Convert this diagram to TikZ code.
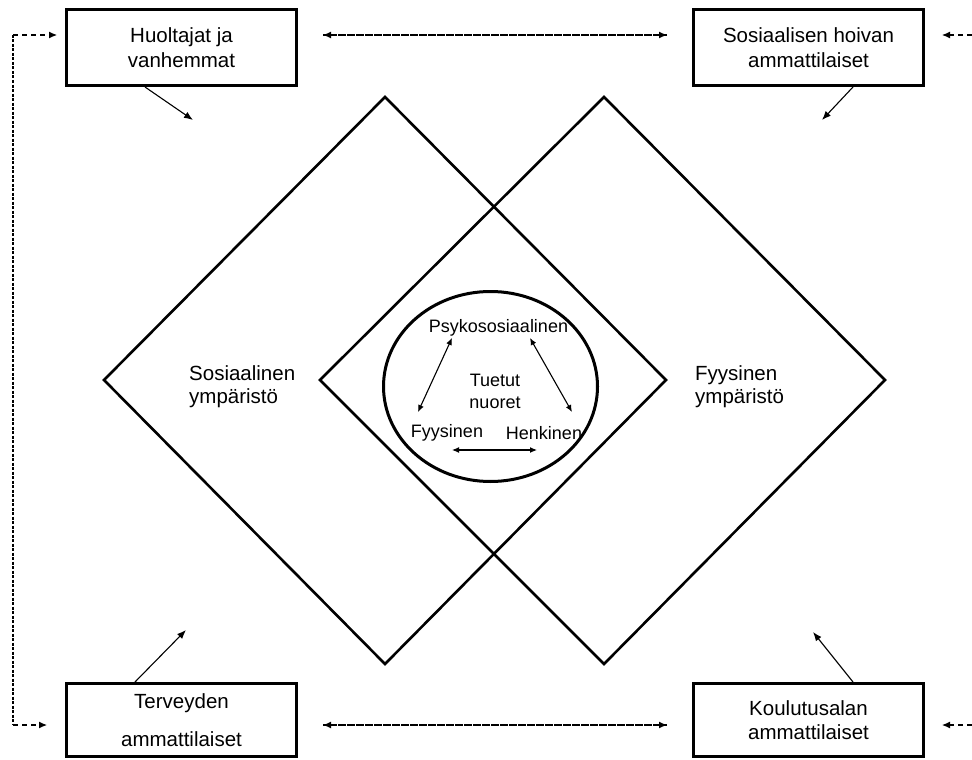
\documentclass[tikz,border=0pt]{standalone}
\usepackage{fontspec}
\setmainfont{Liberation Sans}
\usetikzlibrary{shapes.geometric,arrows.meta}
\begin{document}
\begin{tikzpicture}[x=1pt,y=-1pt,
  box/.style={draw,line width=3pt,minimum width=230pt,minimum height=76pt,inner sep=0pt,align=center,font=\fontsize{20.5}{24.5}\selectfont},
  lowbox/.style={box,minimum height=73pt},
  dia/.style={line width=2.6pt,line join=miter},
  lab/.style={align=left,anchor=west,inner sep=0pt,font=\fontsize{20.5}{23.5}\selectfont},
  inlab/.style={align=center,inner sep=0pt,font=\fontsize{18}{22}\selectfont},
  arr/.style={line width=1.1pt,-{Latex[length=9pt,width=7pt]}},
  darr/.style={line width=1.1pt,{Latex[length=7pt,width=6pt]}-{Latex[length=7pt,width=6pt]}},
  dsh/.style={line width=1.1pt,dash pattern=on 5pt off 4pt},
  dtt/.style={line width=1.1pt,dash pattern=on 3pt off 1.5pt},
  tip/.style={-{Latex[length=8pt,width=7pt]}}
]
\useasboundingbox (0,0) rectangle (972,760);

% diamonds
\coordinate (L1) at (104,380); \coordinate (L2) at (385,97); \coordinate (L3) at (666,380); \coordinate (L4) at (385,664);
\coordinate (R1) at (320,380); \coordinate (R2) at (604,97); \coordinate (R3) at (885,380); \coordinate (R4) at (604,664);
\draw[dia] (L1) -- (L2) -- (L3) -- (L4) -- cycle;
\draw[dia] (R1) -- (R2) -- (R3) -- (R4) -- cycle;

% central ellipse
\node[draw,ellipse,line width=3pt,minimum width=214pt,minimum height=190pt,inner sep=0pt] (core) at (490.5,386.5) {};

% boxes
\node[box] (hv) at (181.5,47.5) {Huoltajat ja\\vanhemmat};
\node[box] (sh) at (808.5,47.5) {Sosiaalisen hoivan\\ammattilaiset};
\node[lowbox] (tv) at (181.5,720) {Terveyden\\[13pt]ammattilaiset};
\node[lowbox] (ko) at (808.5,720) {Koulutusalan\\ammattilaiset};

% diamond labels
\node[lab] (soc) at (189,386.5) {Sosiaalinen\\ympäristö};
\node[lab] (fys) at (695,386.5) {Fyysinen\\ympäristö};

% inner labels
\node[inlab] (psy) at (498.5,328) {Psykososiaalinen};
\node[inlab] (tuet) at (495,391) {Tuetut\\nuoret};
\node[inlab] (fy) at (447,433) {Fyysinen};
\node[inlab] (he) at (544,433) {Henkinen};

% inner arrows
\coordinate (p1) at (452,338); \coordinate (f1) at (418,412);
\coordinate (p2) at (530,338); \coordinate (h1) at (572,412);
\coordinate (f2) at (452,450); \coordinate (h2) at (537,450);
\draw[darr] (p1) -- (f1);
\draw[darr] (p2) -- (h1);
\draw[darr] (f2) -- (h2);

% solid arrows from boxes
\coordinate (a1) at (193,120);
\coordinate (a2) at (822,120);
\coordinate (a3) at (186,630);
\coordinate (a4) at (813,632);
\draw[arr] ([xshift=-36.5pt]hv.south) -- (a1);
\draw[arr] ([xshift=44.5pt]sh.south) -- (a2);
\draw[arr] ([xshift=-46.5pt]tv.north) -- (a3);
\draw[arr] ([xshift=44.5pt]ko.north) -- (a4);

% dashed double arrows between boxes
\coordinate (t1) at (323,35); \coordinate (t2) at (667,35);
\coordinate (b1) at (323,725); \coordinate (b2) at (667,725);
\draw[dsh,tip] (t1) -- (t2);
\draw[dsh,tip] (t2) -- (t1);
\draw[dsh,tip] (b1) -- (b2);
\draw[dsh,tip] (b2) -- (b1);

% left loop
\coordinate (lc1) at (13,35); \coordinate (lc2) at (13,725);
\coordinate (lt1) at (57,35); \coordinate (lt2) at (47,725);
\draw[dsh,tip] (lc1) -- (lt1);
\draw[dtt] (lc1) -- (lc2);
\draw[dsh,tip] (lc2) -- (lt2);

% right incoming
\coordinate (rc1) at (972,35); \coordinate (rc2) at (972,725);
\coordinate (rt1) at (942,35); \coordinate (rt2) at (942,725);
\draw[dsh,tip] (rc1) -- (rt1);
\draw[dsh,tip] (rc2) -- (rt2);
\end{tikzpicture}
\end{document}
